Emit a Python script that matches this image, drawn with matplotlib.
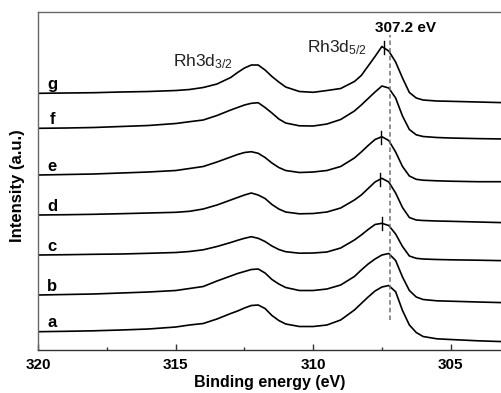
import numpy as np
import matplotlib
matplotlib.use('Agg')
import matplotlib.pyplot as plt
from matplotlib.ticker import MultipleLocator

plt.rcParams['font.family'] = ['Liberation Sans', 'DejaVu Sans']
plt.rcParams['mathtext.default'] = 'regular'

# -- Binding energy grid (eV) shared by all spectra
energy = [320, 319, 318, 317, 316, 315, 314.5, 314, 313.5, 313,
          312.75, 312.5, 312.25, 312, 311.75, 311.5, 311.25, 311,
          310.5, 310, 309.5, 309, 308.5, 308.25, 308, 307.75, 307.5,
          307.25, 307, 306.75, 306.5, 306.25, 306, 305.5, 305, 304, 303]

# -- Rh 3d spectra, already offset for stacking (a.u.)
spec_a = [18.3, 18.7, 19.2, 20, 21, 23, 25, 26.5, 31, 36.5,
          39, 42, 44.5, 45, 41.5, 34.5, 29.5, 26,
          23.5, 23.5, 25, 30, 40, 46.5, 53, 59, 63,
          64.5, 58.3, 39.5, 25, 17.5, 13.5, 11.2, 10.5, 9.2, 8.3]
spec_b = [55, 55.5, 56, 57, 58, 59.5, 61.5, 63.5, 69, 74,
          76.5, 78.5, 80.5, 81, 77, 70.5, 66, 62.5,
          59.5, 59.5, 61, 65, 73.5, 80, 86, 91, 95,
          96.5, 89.5, 73, 59.5, 53, 50.5, 49.2, 48.8, 48, 47.3]
spec_c = [95, 95.3, 95.7, 96, 96.7, 97.5, 98.5, 100.2, 103.5, 107.5,
          109.7, 111.7, 113.3, 111.7, 108.5, 104, 100.5, 98.3,
          96.8, 97, 98, 102, 110, 115, 120.5, 125.5, 126.7,
          124.5, 116, 103.5, 94, 91.7, 91, 90.5, 90.2, 89.8, 89.3]
spec_d = [135, 135.3, 135.7, 136.3, 137, 137.7, 138.7, 141, 145, 150,
          152.5, 155, 157, 155, 151.5, 145.5, 141, 138,
          136.2, 136.5, 138, 142, 150, 155, 161.5, 168, 171.7,
          168, 157, 142.5, 132.5, 130, 129.5, 129, 128.7, 128, 127.3]
spec_e = [175, 175.5, 176, 177, 178, 179.5, 181.5, 183.5, 188, 193,
          195.5, 197.5, 198.3, 196.7, 192.5, 187, 182.5, 179.5,
          177.5, 178, 179.5, 183.5, 192, 198, 204.5, 210.5, 213.3,
          209.5, 198, 183.5, 174, 170.7, 169.8, 169.2, 168.8, 168.3, 168.3]
spec_f = [221.7, 222, 222.5, 223.5, 224.5, 226.5, 228.3, 230, 234.5, 240,
          242.5, 245, 246.7, 247.3, 242.5, 237, 231, 227,
          224.2, 224, 226, 230.5, 239, 245, 251.5, 258, 264,
          262, 252, 234, 220.5, 215.2, 213.5, 212.5, 212, 211.4, 211]
spec_g = [256.7, 257, 257.3, 258, 258.5, 259.5, 260.5, 262.5, 266, 272.5,
          277.5, 282, 285, 285, 280, 273.5, 268, 263,
          258.5, 257.7, 259.5, 261.5, 268.5, 274.5, 284, 293.5, 303.5,
          299, 288, 272, 257.5, 252, 250, 249, 248.7, 248, 247.3]

labels = ['a', 'b', 'c', 'd', 'e', 'f', 'g']
spectra = [spec_a, spec_b, spec_c, spec_d, spec_e, spec_f, spec_g]

# -- peak maxima marked with a short bar (curve label, energy)
peak_marks = [('c', 307.5), ('d', 307.57), ('e', 307.53), ('g', 307.44)]
ref_energy = 307.2

# -- Open figure device
fig = plt.figure(figsize=(5.02, 3.93), dpi=100)
ax = fig.add_axes([0.0763, 0.1094, 0.9237, 0.8608])

for lab, spec in zip(labels, spectra):
    ax.plot(energy, spec, color='black', lw=1.2, solid_joinstyle='round')
    ax.text(319.5, spec[0] + 4.5, lab, ha='center', va='baseline',
            fontsize=12, fontweight='bold')

for lab, e0 in peak_marks:
    spec = spectra[labels.index(lab)]
    yp = np.interp(e0, energy[::-1], spec[::-1])
    ax.plot([e0, e0], [yp - 6.5, yp + 6.5], color='black', lw=1.0)

# -- reference position of the Rh3d5/2 line
ax.plot([ref_energy, ref_energy], [30, 315], color='#707070', lw=1.1,
        linestyle=(0, (3, 2)))
ax.text(307.75, 317.7, '%.1f eV' % ref_energy, ha='left', va='baseline',
        fontsize=11, fontweight='bold')
ax.text(315.11, 284, r'Rh3d$_{3/2}$', ha='left', va='baseline',
        fontsize=12.5, color='#222222')
ax.text(310.24, 297.7, r'Rh3d$_{5/2}$', ha='left', va='baseline',
        fontsize=12.5, color='#222222')

# -- axes
ax.set_xlim(320, 303.13)
ax.set_ylim(0, 338.3)
ax.xaxis.set_major_locator(MultipleLocator(5))
ax.xaxis.set_minor_locator(MultipleLocator(2.5))
ax.set_yticks([])
ax.tick_params(axis='x', which='both', direction='in', top=False,
               labelsize=11, pad=6, color='#333333')
ax.tick_params(axis='x', which='major', length=4.5, width=1.0)
ax.tick_params(axis='x', which='minor', length=2.2, width=1.0)
for t in ax.get_xticklabels():
    t.set_fontweight('bold')
ax.spines['right'].set_visible(False)
ax.spines['top'].set_color('#666666')
ax.spines['left'].set_color('#666666')
ax.spines['bottom'].set_color('#333333')
for s in ax.spines.values():
    s.set_linewidth(1.0)

ax.set_xlabel('Binding energy (eV)', fontsize=11.5, fontweight='bold',
              labelpad=2)
fig.text(18 / 502, 1 - 186 / 393, 'Intensity (a.u.)', rotation=90,
         ha='center', va='center', fontsize=12, fontweight='bold')

fig.savefig('out.png', dpi=100)
